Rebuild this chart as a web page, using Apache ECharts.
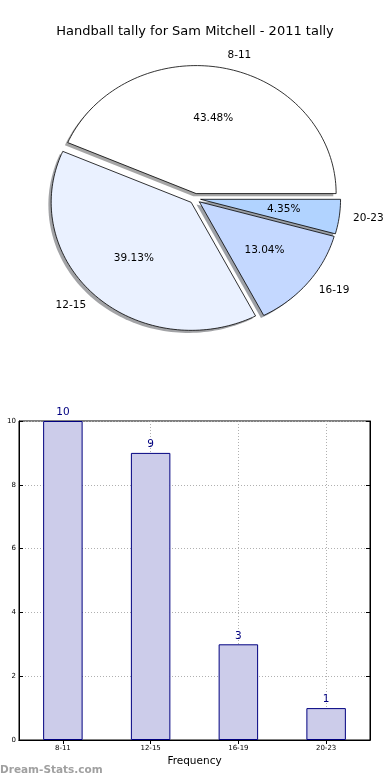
<!DOCTYPE html>
<html><head><meta charset="utf-8">
<script src="https://cdn.jsdelivr.net/npm/echarts@6/dist/echarts.min.js"></script>
<style>html,body{margin:0;padding:0;background:#fff}#c{width:390px;height:780px}</style>
</head><body><div id="c"></div>
<script>
const categories = ['8-11', '12-15', '16-19', '20-23'];
const counts = [10, 9, 3, 1];
const sliceColors = ['#ffffff', '#eaf1ff', '#c4d8ff', '#b1d3ff'];
const yTicks = [0, 2, 4, 6, 8, 10];
const titleText = 'Handball tally for Sam Mitchell - 2011 tally';
const xAxisName = 'Frequency';
const watermark = 'Dream-Stats.com';

const FONT = '"DejaVu Sans", sans-serif';
const total = counts.reduce((a, b) => a + b, 0);
const EXPLODE = 0.04, LABEL_D = 1.1, PCT_D = 0.6, SH = -0.02;

function wedgeGeom(i) {
  let start = 0;
  for (let k = 0; k < i; k++) start += counts[k] / total * 360;
  const end = start + counts[i] / total * 360;
  const mid = (start + end) / 2 * Math.PI / 180;
  return { start, end, mid, cx: EXPLODE * Math.cos(mid), cy: EXPLODE * Math.sin(mid) };
}
function wedgePoints(api, g, ox, oy) {
  const pts = [api.coord([g.cx + ox, g.cy + oy])];
  const n = Math.max(10, Math.ceil((g.end - g.start) / 1.5));
  for (let j = 0; j <= n; j++) {
    const a = (g.start + (g.end - g.start) * j / n) * Math.PI / 180;
    pts.push(api.coord([g.cx + ox + Math.cos(a), g.cy + oy + Math.sin(a)]));
  }
  return pts;
}
function shadowColor(hex) {
  const r = parseInt(hex.slice(1, 3), 16), g = parseInt(hex.slice(3, 5), 16), b = parseInt(hex.slice(5, 7), 16);
  return 'rgba(' + Math.round(r * 0.3) + ',' + Math.round(g * 0.3) + ',' + Math.round(b * 0.3) + ',0.5)';
}

const chart = echarts.init(document.getElementById('c'), null, { renderer: 'canvas' });
const dotted = { show: true, lineStyle: { color: '#b0b0b0', type: [1, 2], width: 1 } };

chart.setOption({
  backgroundColor: '#fff',
  animation: false,
  title: { text: titleText, left: 'center', top: 20, textStyle: { fontFamily: FONT, fontSize: 13, fontWeight: 'normal', color: '#000' } },
  graphic: [{ type: 'text', left: 0, top: 765, style: { text: watermark, font: 'bold 10.5px ' + FONT, fill: '#a0a0a0' } }],
  grid: [
    { left: 13, width: 364, top: 32.2, height: 332.8 },
    { left: 19, right: 20, top: 421, bottom: 40, show: true, borderColor: '#000', borderWidth: 1 }
  ],
  xAxis: [
    { gridIndex: 0, type: 'value', min: -1.3, max: 1.3, show: false },
    { gridIndex: 1, type: 'category', data: categories, position: 'bottom',
      axisLine: { show: true, lineStyle: { color: '#000', width: 1 } },
      axisTick: { show: true, inside: true, alignWithLabel: true, length: 4, lineStyle: { color: '#000' } },
      axisLabel: { fontFamily: FONT, fontSize: 7, color: '#000', margin: 4.5 },
      splitLine: Object.assign({ alignWithLabel: true }, dotted),
      name: xAxisName, nameLocation: 'middle', nameGap: 15.5,
      nameTextStyle: { fontFamily: FONT, fontSize: 10.5, color: '#000' } },
    { gridIndex: 1, type: 'category', data: categories, position: 'top',
      axisLine: { show: true, lineStyle: { color: '#000', width: 1 } },
      axisTick: { show: true, inside: true, alignWithLabel: true, length: 4, lineStyle: { color: '#000' } },
      axisLabel: { show: false }, splitLine: { show: false } }
  ],
  yAxis: [
    { gridIndex: 0, type: 'value', min: -1.3, max: 1.3, show: false },
    { gridIndex: 1, type: 'value', min: yTicks[0], max: yTicks[yTicks.length - 1], interval: yTicks[1] - yTicks[0], position: 'left',
      axisLine: { show: true, lineStyle: { color: '#000', width: 1 } },
      axisTick: { show: true, inside: true, length: 4, lineStyle: { color: '#000' } },
      axisLabel: { fontFamily: FONT, fontSize: 7, color: '#000', margin: 3 },
      splitLine: dotted },
    { gridIndex: 1, type: 'value', min: yTicks[0], max: yTicks[yTicks.length - 1], interval: yTicks[1] - yTicks[0], position: 'right',
      axisLine: { show: true, lineStyle: { color: '#000', width: 1 } },
      axisTick: { show: true, inside: true, length: 4, lineStyle: { color: '#000' } },
      axisLabel: { show: false }, splitLine: { show: false } }
  ],
  series: [
    { type: 'custom', xAxisIndex: 0, yAxisIndex: 0, z: 1, silent: true,
      data: counts.map((v, i) => [i, v]),
      renderItem: function (params, api) {
        const i = params.dataIndex, g = wedgeGeom(i);
        return { type: 'polygon', shape: { points: wedgePoints(api, g, SH, SH) },
          style: { fill: shadowColor(sliceColors[i]), stroke: null } };
      } },
    { type: 'custom', xAxisIndex: 0, yAxisIndex: 0, z: 3, silent: true,
      data: counts.map((v, i) => [i, v]),
      renderItem: function (params, api) {
        const i = params.dataIndex, g = wedgeGeom(i);
        const cosm = Math.cos(g.mid), sinm = Math.sin(g.mid);
        const lx = g.cx + LABEL_D * cosm, ly = g.cy + LABEL_D * sinm;
        const lp = api.coord([lx, ly]);
        const pp = api.coord([g.cx + PCT_D * cosm, g.cy + PCT_D * sinm]);
        const pct = (counts[i] / total * 100).toFixed(2) + '%';
        return { type: 'group', children: [
          { type: 'polygon', shape: { points: wedgePoints(api, g, 0, 0) },
            style: { fill: sliceColors[i], stroke: '#000', lineWidth: 0.8 } },
          { type: 'text', x: lp[0], y: lp[1], style: { text: categories[i], font: '10.5px ' + FONT, fill: '#000',
            align: lx > 0 ? 'left' : 'right', verticalAlign: 'middle' } },
          { type: 'text', x: pp[0], y: pp[1], style: { text: pct, font: '10.5px ' + FONT, fill: '#000',
            align: 'center', verticalAlign: 'middle' } }
        ] };
      } },
    { type: 'bar', xAxisIndex: 1, yAxisIndex: 1, data: counts, barWidth: '45%',
      itemStyle: { color: '#ccccea', borderColor: '#000080', borderWidth: 1 },
      label: { show: true, position: 'top', distance: 3, color: '#000080', fontFamily: FONT, fontSize: 10.5 } }
  ]
});
</script></body></html>
